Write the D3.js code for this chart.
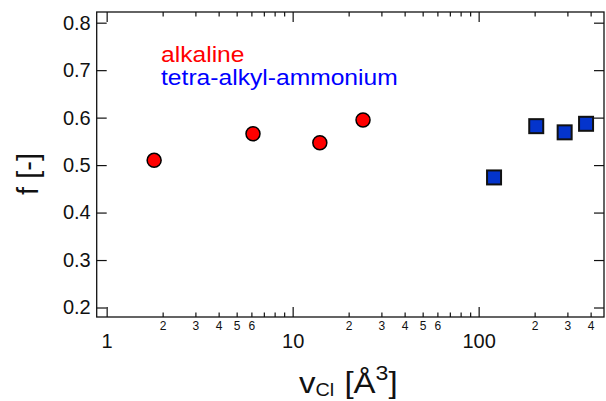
<!DOCTYPE html>
<html>
<head>
<meta charset="utf-8">
<script src="https://cdn.jsdelivr.net/npm/d3@7"></script>
<style>
    body { margin: 0; background: #fff; }
    svg { display: block; font-family: "Liberation Sans", Arial, Helvetica, sans-serif; }
</style>
</head>
<body>
<div id="chart"></div>
<script>
// data
const alkalineV = [1.80, 6.12, 14.0, 23.9];
const alkalineF = [0.510, 0.566, 0.547, 0.595];
const taaV = [121, 204, 290, 378];
const taaF = [0.474, 0.582, 0.569, 0.587];

const yTicks = [0.2, 0.3, 0.4, 0.5, 0.6, 0.7, 0.8];
const xMajor = [1, 10, 100];
const xMinor = [2, 3, 4, 5, 6, 7, 8, 9, 20, 30, 40, 50, 60, 70, 80, 90, 200, 300, 400];
const xMinorLabels = { 2: "2", 3: "3", 4: "4", 5: "5", 6: "6", 20: "2", 30: "3", 40: "4", 50: "5", 60: "6", 200: "2", 300: "3", 400: "4" };
const legendNames = ["alkaline", "tetra-alkyl-ammonium"];
const legendColors = ["#ff0000", "#0000ff"];

const width = 606, height = 401;
const margin = { top: 12, right: 2, bottom: 84, left: 96.7 };

const x = d3.scaleLog()
    .domain([0.884, 472])
    .range([margin.left, width - margin.right]);

const y = d3.scaleLinear()
    .domain([0.18, 0.8225])
    .range([height - margin.bottom, margin.top]);

const svg = d3.select("#chart").append("svg")
    .attr("width", width)
    .attr("height", height)
    .attr("viewBox", [0, 0, width, height]);

const bottom = height - margin.bottom;
const right = width - margin.right;

function styleAxis(g, fontSize) {
    g.select(".domain").remove();
    g.selectAll(".tick line").attr("stroke", "#111").attr("stroke-width", 1.2);
    g.selectAll(".tick text")
        .attr("fill", "#111")
        .attr("font-size", fontSize)
        .attr("font-family", "Liberation Sans, Arial, Helvetica, sans-serif");
}

// bottom axis: major + minor ticks pointing inward
svg.append("g")
    .attr("transform", `translate(0,${bottom})`)
    .call(d3.axisBottom(x).tickValues(xMajor).tickSize(-10).tickPadding(16.3).tickFormat(d3.format("d")))
    .call(g => styleAxis(g, 20));

svg.append("g")
    .attr("transform", `translate(0,${bottom})`)
    .call(d3.axisBottom(x).tickValues(xMinor).tickSize(-4.5).tickPadding(4.5).tickFormat(d => xMinorLabels[d] || ""))
    .call(g => styleAxis(g, 12));

// top axis ticks
svg.append("g")
    .attr("transform", `translate(0,${margin.top})`)
    .call(d3.axisTop(x).tickValues(xMajor).tickSize(-10).tickFormat(""))
    .call(g => styleAxis(g, 12));

svg.append("g")
    .attr("transform", `translate(0,${margin.top})`)
    .call(d3.axisTop(x).tickValues(xMinor).tickSize(-4.5).tickFormat(""))
    .call(g => styleAxis(g, 12));

// left and right axes
svg.append("g")
    .attr("transform", `translate(${margin.left},0)`)
    .call(d3.axisLeft(y).tickValues(yTicks).tickSize(-10).tickPadding(6).tickFormat(d3.format(".1f")))
    .call(g => styleAxis(g, 20));

svg.append("g")
    .attr("transform", `translate(${right},0)`)
    .call(d3.axisRight(y).tickValues(yTicks).tickSize(-10).tickFormat(""))
    .call(g => styleAxis(g, 12));

// frame
svg.append("rect")
    .attr("x", margin.left)
    .attr("y", margin.top)
    .attr("width", right - margin.left)
    .attr("height", bottom - margin.top)
    .attr("fill", "none")
    .attr("stroke", "#111")
    .attr("stroke-width", 1.3);

// alkaline circles
svg.append("g")
    .selectAll("circle")
    .data(alkalineV.map((v, i) => ({ v: v, f: alkalineF[i] })))
    .join("circle")
    .attr("cx", d => x(d.v))
    .attr("cy", d => y(d.f))
    .attr("r", 7)
    .attr("fill", "#ff0000")
    .attr("stroke", "#000")
    .attr("stroke-width", 1.5);

// tetra-alkyl-ammonium squares
const sq = 14;
svg.append("g")
    .selectAll("rect")
    .data(taaV.map((v, i) => ({ v: v, f: taaF[i] })))
    .join("rect")
    .attr("x", d => x(d.v) - sq / 2)
    .attr("y", d => y(d.f) - sq / 2)
    .attr("width", sq)
    .attr("height", sq)
    .attr("fill", "#0434cc")
    .attr("stroke", "#111")
    .attr("stroke-width", 2);

// legend (glyphs a bit wider than tall in the original)
svg.append("g")
    .selectAll("text")
    .data(legendNames)
    .join("text")
    .attr("transform", (d, i) => `translate(161,${62 + i * 22.6}) scale(1.12,1)`)
    .attr("font-size", 22)
    .attr("fill", (d, i) => legendColors[i])
    .text(d => d);

// axis titles
const xt = svg.append("text")
    .attr("transform", "translate(299,392.5) scale(1.1,1)")
    .attr("font-size", 30)
    .attr("fill", "#111");
xt.append("tspan").text("v");
xt.append("tspan").attr("font-size", 18).attr("dy", 3.5).text("Cl");
xt.append("tspan").attr("dy", -3.5).attr("dx", 1).text(" [Å");
xt.append("tspan").attr("font-size", 21).attr("dy", -13).text("3");
xt.append("tspan").attr("dy", 13).text("]");

svg.append("text")
    .attr("transform", "translate(38,174) rotate(-90)")
    .attr("text-anchor", "middle")
    .attr("font-size", 29)
    .attr("fill", "#111")
    .text("f [-]");
</script>
</body>
</html>
